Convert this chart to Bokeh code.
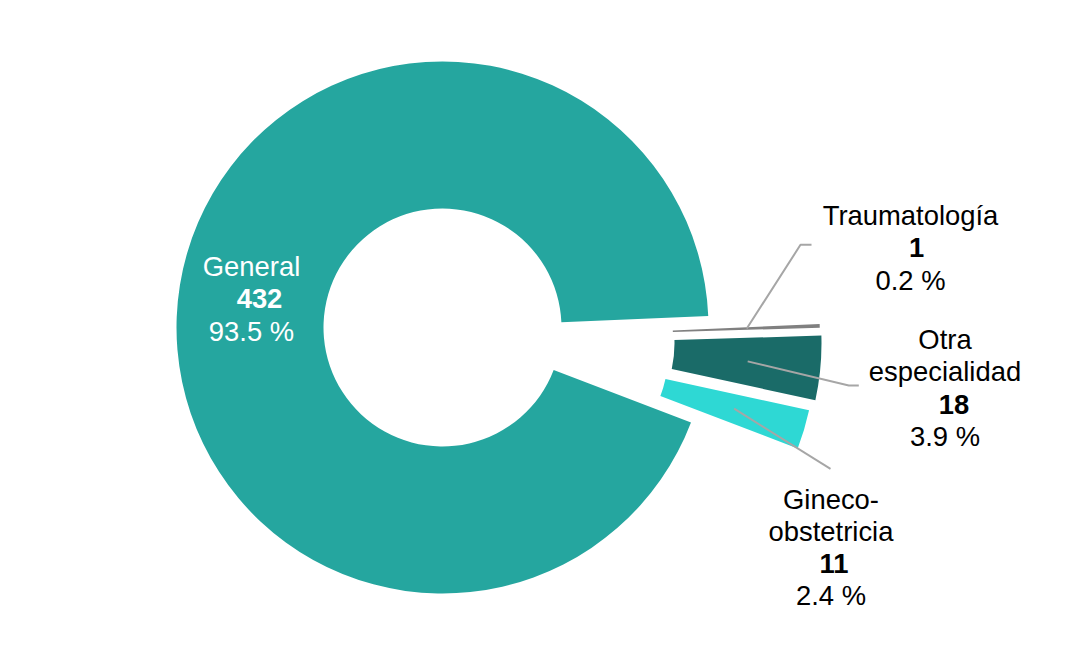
import math
from bokeh.plotting import figure
from bokeh.models import Range1d, ColumnDataSource
from bokeh.embed import file_html
from bokeh.resources import INLINE
from bokeh.core.properties import value

# ---------------- data ----------------
categories = ["General", "Traumatología", "Otra especialidad", "Gineco-obstetricia"]
counts = [432, 1, 18, 11]
label_lines = [["General"], ["Traumatología"], ["Otra", "especialidad"], ["Gineco-", "obstetricia"]]

# ---------------- style / layout (screen px) ----------------
colors = ["#25A69F", "#808080", "#1A6B68", "#2ED8D4"]
text_colors = ["#FFFFFF", "#000000", "#000000", "#000000"]
W, H = 1055, 648
OX, OY = 0, 0
CX, CY = 442, 327
R_IN, R_OUT, R_MID = 119, 266, 193
START_DEG = 339.1
explode_dx = [0, 111.4, 113, 106.7]
explode_dy = [0, 8.1, 16, 26]
label_cx = [251, 910, 944.5, 830.5]
label_y0 = [274, 223, 347, 506.5]
TEXT_DY = -8
num_dx = [8, 6, 9, 3]
LINE_H = 32.3
leader_elbow = [None, (800, 244.3), (848.3, 385), None]
leader_end = [None, (811, 244.3), (858.3, 385), (830, 468.3)]
FONT = "Liberation Sans"
FSIZE = "27.4px"

total = sum(counts)

p = figure(width=W, height=H, x_range=Range1d(OX, OX + W), y_range=Range1d(-(OY + H), -OY),
           output_backend="svg", toolbar_location=None, min_border=0,
           x_axis_type=None, y_axis_type=None)
p.grid.visible = False
p.outline_line_color = None
p.background_fill_color = "#FFFFFF"
p.border_fill_color = "#FFFFFF"

# wedges (clockwise from START_DEG)
xs, ys, sa, ea, mids = [], [], [], [], []
a = math.radians(START_DEG)
for i, c in enumerate(counts):
    span = c / total * 2 * math.pi
    e = a - span
    xs.append(CX + explode_dx[i])
    ys.append(-(CY + explode_dy[i]))
    sa.append(e)
    ea.append(a)
    mids.append(a - span / 2)
    a = e

wsrc = ColumnDataSource(dict(x=xs, y=ys, start=sa, end=ea, color=colors, cat=categories))
p.annular_wedge(x="x", y="y", inner_radius=R_IN, outer_radius=R_OUT,
                start_angle="start", end_angle="end", direction="anticlock",
                fill_color="color", line_color=None, source=wsrc)

# leader lines
for i in range(len(counts)):
    if leader_end[i] is None:
        continue
    sx = xs[i] + R_MID * math.cos(mids[i])
    sy = ys[i] + R_MID * math.sin(mids[i])
    px = [sx]
    py = [sy]
    if leader_elbow[i] is not None:
        px.append(leader_elbow[i][0]); py.append(-leader_elbow[i][1])
    px.append(leader_end[i][0]); py.append(-leader_end[i][1])
    p.line(px, py, line_color="#A6A6A6", line_width=2)

# labels
nx, ny, nt, nc = [], [], [], []
bx, by, bt, bc = [], [], [], []
for i, c in enumerate(counts):
    k = 0
    y0 = label_y0[i] + TEXT_DY
    for ln in label_lines[i]:
        nx.append(label_cx[i]); ny.append(-(y0 + k * LINE_H)); nt.append(ln); nc.append(text_colors[i])
        k += 1
    bx.append(label_cx[i] + num_dx[i]); by.append(-(y0 + k * LINE_H)); bt.append(str(c)); bc.append(text_colors[i])
    k += 1
    pct = "%.1f %%" % (c / total * 100)
    nx.append(label_cx[i]); ny.append(-(y0 + k * LINE_H)); nt.append(pct); nc.append(text_colors[i])

p.text(x="x", y="y", text="t", text_color="c", source=ColumnDataSource(dict(x=nx, y=ny, t=nt, c=nc)),
       text_font=value(FONT), text_font_size=FSIZE, text_align="center", text_baseline="alphabetic")
p.text(x="x", y="y", text="t", text_color="c", source=ColumnDataSource(dict(x=bx, y=by, t=bt, c=bc)),
       text_font=value(FONT), text_font_size=FSIZE, text_font_style="bold",
       text_align="center", text_baseline="alphabetic")

open("out.html", "w").write(file_html(p, INLINE))
